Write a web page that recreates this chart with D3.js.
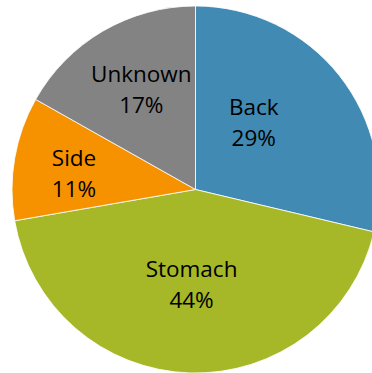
<!DOCTYPE html>
<html>
<head>
<meta charset="utf-8">
<script src="https://cdn.jsdelivr.net/npm/d3@7"></script>
<style>
  html, body { margin: 0; padding: 0; background: #ffffff; overflow: hidden; }
  svg { display: block; }
</style>
</head>
<body>
<svg id="chart" width="372" height="373"></svg>
<script>
// Sleeping position shares (percent)
const categories = ["Back", "Stomach", "Side", "Unknown"];
const shares = [29, 44, 11, 17];
const sliceColors = ["#418AB3", "#A6B727", "#F69200", "#838383"];

// Label placement inside each slice: angular nudge (degrees) from the slice middle
// and distance from the centre as a fraction of the radius.
const labelPlacement = {
  Back:    { dAngle: -10.8, r: 0.485 },
  Stomach: { dAngle: 0.6,   r: 0.518 },
  Side:    { dAngle: -2.1,  r: 0.668 },
  Unknown: { dAngle: 1.9,   r: 0.621 }
};

const svg = d3.select("#chart");
const cx = 195.5, cy = 189.5, radius = 183.5;

const data = categories.map((c, i) => ({ name: c, value: shares[i], color: sliceColors[i] }));

const pie = d3.pie().value(d => d.value).sort(null);
const arc = d3.arc().innerRadius(0).outerRadius(radius);

const g = svg.append("g").attr("transform", `translate(${cx},${cy})`);
const arcs = pie(data);

g.selectAll("path.slice")
  .data(arcs)
  .join("path")
  .attr("class", "slice")
  .attr("d", arc)
  .attr("fill", d => d.data.color)
  .attr("stroke", "#ffffff")
  .attr("stroke-width", 0.8);

const labels = g.selectAll("text.label")
  .data(arcs)
  .join("text")
  .attr("class", "label")
  .attr("text-anchor", "middle")
  .attr("font-family", "'Open Sans', sans-serif")
  .attr("font-size", 22.5)
  .attr("fill", "#000000")
  .attr("transform", d => {
    const p = labelPlacement[d.data.name];
    const mid = (d.startAngle + d.endAngle) / 2 + p.dAngle * Math.PI / 180;
    const rr = p.r * radius;
    return `translate(${rr * Math.sin(mid)},${-rr * Math.cos(mid)})`;
  });

labels.append("tspan")
  .attr("x", 0)
  .attr("y", -7.5)
  .text(d => d.data.name);

labels.append("tspan")
  .attr("x", 0)
  .attr("y", 24)
  .text(d => d3.format(".0f")(d.data.value) + "%");
</script>
</body>
</html>
